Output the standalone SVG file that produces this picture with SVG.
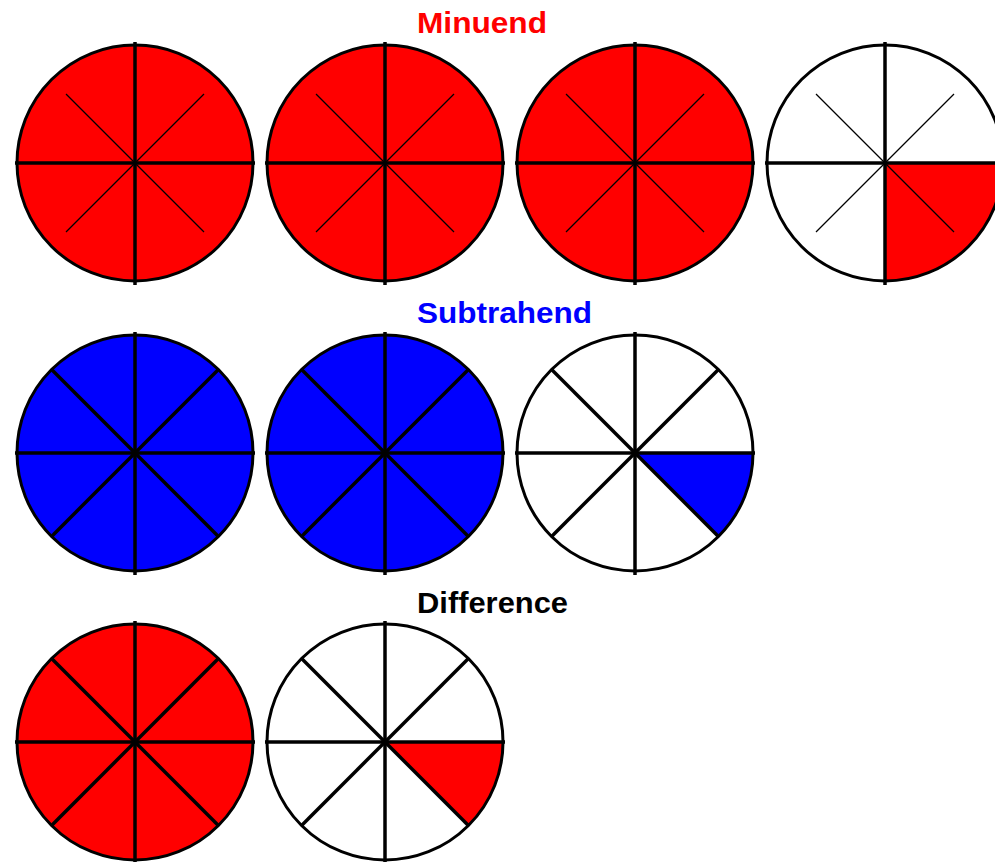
<svg xmlns="http://www.w3.org/2000/svg" width="995" height="862" viewBox="0 0 995 862">
<style>
.t{font-family:"Liberation Sans",Arial,sans-serif;font-weight:bold;font-size:30px}
.o{fill:none;stroke:#000;stroke-width:3}
.ax{stroke:#000;stroke-width:3.5}
.thin{stroke:#000;stroke-width:1.3}
.thick{stroke:#000;stroke-width:3.5}
.r{fill:#ff0000}
.b{fill:#0000ff}
.w{fill:#fff}
</style>
<defs>
<g id="axes"><line class="ax" x1="-120" y1="0" x2="120" y2="0"/><line class="ax" x1="0" y1="-121" x2="0" y2="122"/></g>
<g id="thinDiag"><line class="thin" x1="-69" y1="-69" x2="69" y2="69"/><line class="thin" x1="-69" y1="69" x2="69" y2="-69"/></g>
<g id="thickDiag"><line class="thick" x1="-83.4" y1="-83.4" x2="83.4" y2="83.4"/><line class="thick" x1="-83.4" y1="83.4" x2="83.4" y2="-83.4"/></g>
</defs>
<rect width="995" height="862" fill="#fff"/>
<text class="t" x="417" y="33" fill="#ff0000" textLength="130" lengthAdjust="spacingAndGlyphs">Minuend</text>
<text class="t" x="417" y="323" fill="#0000ff" textLength="175" lengthAdjust="spacingAndGlyphs">Subtrahend</text>
<text class="t" x="417" y="613" fill="#000" textLength="151" lengthAdjust="spacingAndGlyphs">Difference</text>

<g id="m1" transform="translate(135,163)"><circle r="118" class="r"/><use href="#thinDiag"/><use href="#axes"/><circle r="118" class="o"/></g>
<g id="m2" transform="translate(385,163)"><circle r="118" class="r"/><use href="#thinDiag"/><use href="#axes"/><circle r="118" class="o"/></g>
<g id="m3" transform="translate(635,163)"><circle r="118" class="r"/><use href="#thinDiag"/><use href="#axes"/><circle r="118" class="o"/></g>
<g id="m4" transform="translate(885,163)"><circle r="118" class="w"/><path class="r" d="M0,0 L118,0 A118,118 0 0 1 0,118 Z"/><use href="#thinDiag"/><use href="#axes"/><circle r="118" class="o"/></g>

<g id="s1" transform="translate(135,453)"><circle r="118" class="b"/><use href="#thickDiag"/><use href="#axes"/><circle r="118" class="o"/></g>
<g id="s2" transform="translate(385,453)"><circle r="118" class="b"/><use href="#thickDiag"/><use href="#axes"/><circle r="118" class="o"/></g>
<g id="s3" transform="translate(635,453)"><circle r="118" class="w"/><path class="b" d="M0,0 L118,0 A118,118 0 0 1 83.44,83.44 Z"/><use href="#thickDiag"/><use href="#axes"/><circle r="118" class="o"/></g>

<g id="d1" transform="translate(135,742)"><circle r="118" class="r"/><use href="#thickDiag"/><use href="#axes"/><circle r="118" class="o"/></g>
<g id="d2" transform="translate(385,742)"><circle r="118" class="w"/><path class="r" d="M0,0 L118,0 A118,118 0 0 1 83.44,83.44 Z"/><use href="#thickDiag"/><use href="#axes"/><circle r="118" class="o"/></g>
</svg>
